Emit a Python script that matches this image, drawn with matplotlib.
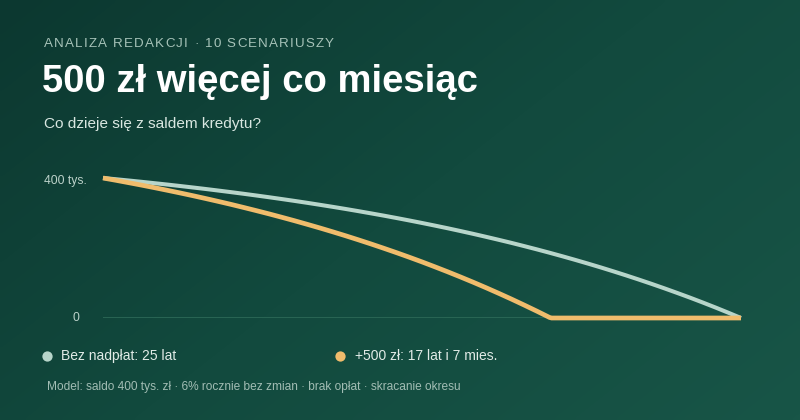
import matplotlib
matplotlib.use("Agg")
import matplotlib.pyplot as plt
import numpy as np
from matplotlib.colors import LinearSegmentedColormap
from matplotlib.lines import Line2D

half_years = np.arange(0, 25.5, 0.5)
base_balance = [400.0, 396.5, 392.9, 389.2, 385.3, 381.4, 377.3, 373.1, 368.8,
                364.3, 359.7, 355.0, 350.1, 345.1, 339.9, 334.6, 329.1, 323.4,
                317.6, 311.6, 305.4, 299.0, 292.5, 285.7, 278.7, 271.5, 264.1,
                256.5, 248.6, 240.5, 232.1, 223.5, 214.7, 205.5, 196.1, 186.4,
                176.4, 166.1, 155.5, 144.6, 133.3, 121.7, 109.7, 97.4, 84.7,
                71.6, 58.2, 44.3, 30.0, 15.2, 0.0]
extra_years = [0, 0.5, 1, 1.5, 2, 2.5, 3, 3.5, 4, 4.5, 5, 5.5, 6, 6.5, 7, 7.5,
               8, 8.5, 9, 9.5, 10, 10.5, 11, 11.5, 12, 12.5, 13, 13.5, 14, 14.5,
               15, 15.5, 16, 16.5, 17, 17.5, 17.58, 25]
extra_balance = [400.0, 393.5, 386.7, 379.8, 372.6, 365.2, 357.6, 349.8, 341.7,
                 333.4, 324.9, 316.0, 306.9, 297.6, 287.9, 278.0, 267.7, 257.2,
                 246.3, 235.1, 223.5, 211.6, 199.3, 186.7, 173.7, 160.3, 146.4,
                 132.2, 117.5, 102.4, 86.8, 70.7, 54.2, 37.1, 19.6, 1.5, 0.0, 0.0]
ytick_vals = [400, 0]
ytick_labels = ["400 tys.", "0"]

eyebrow = "ANALIZA REDAKCJI · 10 SCENARIUSZY"
title = "500 zł więcej co miesiąc"
subtitle = "Co dzieje się z saldem kredytu?"
legend_labels = ["Bez nadpłat: 25 lat", "+500 zł: 17 lat i 7 mies."]
note = "Model: saldo 400 tys. zł · 6% rocznie bez zmian · brak opłat · skracanie okresu"

GREEN = "#b7d5ca"
ORANGE = "#f0bc6c"

plt.rcParams["font.family"] = ["Liberation Sans", "DejaVu Sans"]

W, H = 800, 420
fig = plt.figure(figsize=(W / 100, H / 100), dpi=100)

# background gradient
bg = fig.add_axes([0, 0, 1, 1], zorder=-10)
gx, gy = np.meshgrid(np.linspace(0, 1, 200), np.linspace(0, 1, 120))
grad = 0.6 * gx + 0.4 * gy
cmap = LinearSegmentedColormap.from_list("bg", ["#0c3830", "#124a3e", "#185547"])
bg.imshow(grad, cmap=cmap, aspect="auto", extent=[0, 1, 1, 0], interpolation="bicubic")
bg.set_xlim(0, 1)
bg.set_ylim(1, 0)
bg.axis("off")


def px(x, y):
    return x / W, 1 - y / H


# eyebrow with letter spacing
renderer = fig.canvas.get_renderer()
cx = 44
for ch in eyebrow:
    t = fig.text(*px(cx, 44), ch, fontsize=9.6, color="#a7c3b9", va="center", ha="left")
    bb = t.get_window_extent(renderer)
    cx += bb.width + 1.2

fig.text(*px(42, 82), title, fontsize=27.5, fontweight="bold", color="white",
         va="center", ha="left")
fig.text(*px(44, 124), subtitle, fontsize=11.1, color="#d9e7e1", va="center", ha="left")

# chart area
ax = fig.add_axes([103 / W, (H - 318) / H, (741 - 103) / W, (318 - 178) / H])
ax.set_facecolor("none")
ax.set_xlim(0, 25)
ax.set_ylim(0, 400)
for s in ax.spines.values():
    s.set_visible(False)
ax.set_xticks([])
ax.set_yticks([])
ax.axhline(0, color="#2d6a58", lw=1.2, zorder=1)

# y labels (not aligned on the same edge in the original)
label_x = [-0.63, -0.94]
label_dy = [-8, 0]
for xv, yv, dy, lab in zip(label_x, ytick_vals, label_dy, ytick_labels):
    ax.text(xv, yv + dy, lab, fontsize=8.7, color="#bcd2ca", ha="right", va="center")

ax.plot(half_years, base_balance, color=GREEN, lw=2.9, solid_capstyle="butt",
        clip_on=False, zorder=3)
ax.plot(extra_years, extra_balance, color=ORANGE, lw=3.4, solid_capstyle="butt",
        solid_joinstyle="miter", clip_on=False, zorder=4)

# legend
for (mx, tx), col, lab in zip([(47, 61), (340, 355)], [GREEN, ORANGE], legend_labels):
    fig.add_artist(Line2D([mx / W], [1 - 356 / H], marker="o", ms=7.4, color=col,
                          markeredgewidth=0, transform=fig.transFigure))
    fig.text(*px(tx, 356), lab, fontsize=10, color="#e1ebe7", va="center", ha="left")

fig.text(*px(47, 387), note, fontsize=8.6, color="#a2bdb4", va="center", ha="left")

fig.savefig("out.png", dpi=100)
